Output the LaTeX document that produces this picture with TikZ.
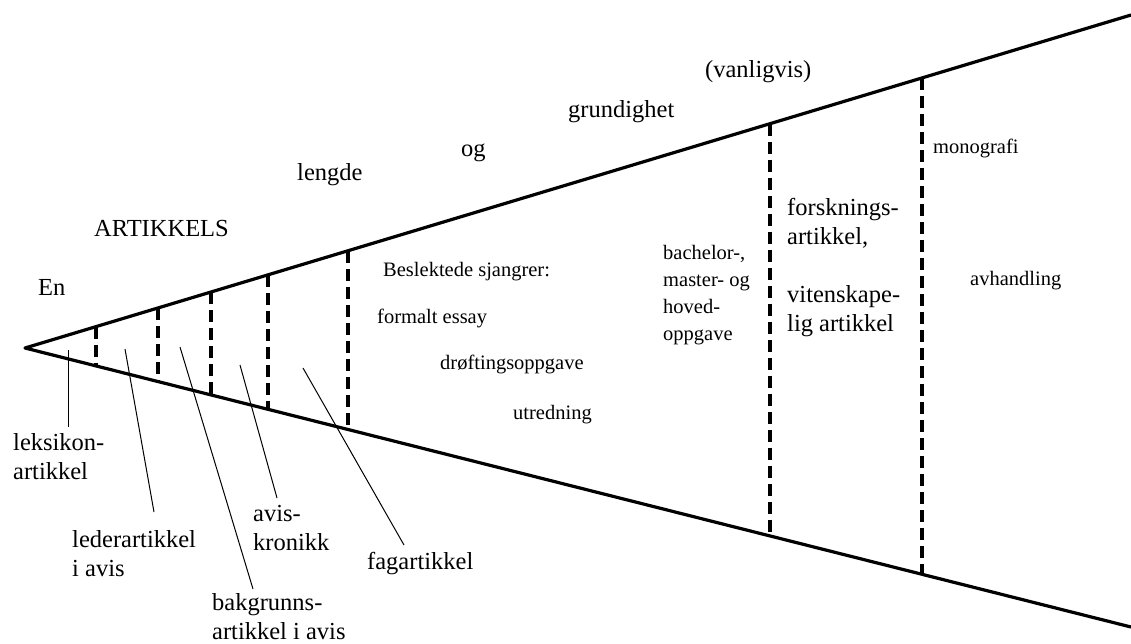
\documentclass[tikz,border=0pt]{standalone}
\usepackage{fontspec}
\setmainfont{Liberation Serif}
\usetikzlibrary{
  calc,
}
\tikzset{
  wedge/.style={line width=3.2pt, line join=round},
  divider/.style={line width=3.2pt, dash pattern=on 12pt off 6pt},
  pointer/.style={line width=1pt},
  biglabel/.style={font=\fontsize{24.5}{29}\selectfont, inner sep=0pt, align=left},
  smalllabel/.style={font=\fontsize{20.5}{27}\selectfont, inner sep=0pt, align=left},
}
\begin{document}
\begin{tikzpicture}[x=1pt, y=-1pt]
\useasboundingbox (0,0) rectangle (1131,643);
% the wedge
\coordinate (apex) at (25,348);
\coordinate (upper end) at (1131,15);
\coordinate (lower end) at (1131,627);
\draw[wedge] (upper end) -- (apex) -- (lower end);
\foreach \x in {96,158,211,268,348,770,922} {
  \pgfmathsetmacro\t{(\x-25)/1106}
  \draw[divider] ($(apex)!\t!(upper end)$) -- ($(apex)!\t!(lower end)$);
}
% heading along the top
\node[biglabel, anchor=base west] (en) at (38,295) {En};
\node[biglabel, anchor=base west] (artikkels) at (94,236) {ARTIKKELS};
\node[biglabel, anchor=base west] (lengde) at (297,180) {lengde};
\node[biglabel, anchor=base west] (og) at (461,156) {og};
\node[biglabel, anchor=base west] (grundighet) at (568,117) {grundighet};
\node[biglabel, anchor=base west] (vanligvis) at (705,77) {(vanligvis)};
% inside the wedge
\node[smalllabel, anchor=base west] (beslektede) at (383,276) {Beslektede sjangrer:};
\node[smalllabel, anchor=base west] (essay) at (377,323) {formalt essay};
\node[smalllabel, anchor=base west] (droefting) at (440,369) {drøftingsoppgave};
\node[smalllabel, anchor=base west] (utredning) at (513,419) {utredning};
\node[smalllabel, anchor=north west] (oppgave) at (663,245) {bachelor-,\\master- og\\hoved-\\oppgave};
\node[biglabel, anchor=north west] (forskning) at (787,198) {forsknings-\\artikkel,\\[29pt]vitenskape-\\lig artikkel};
\node[smalllabel, anchor=base west] (monografi) at (933,153) {monografi};
\node[smalllabel, anchor=base west] (avhandling) at (970,285) {avhandling};
% labels below
\node[biglabel, anchor=north west] (leksikon) at (13,433) {leksikon-\\artikkel};
\node[biglabel, anchor=north west] (leder) at (72,530) {lederartikkel\\i avis};
\node[biglabel, anchor=north west] (bakgrunn) at (212,593) {bakgrunns-\\artikkel i avis};
\node[biglabel, anchor=north west] (kronikk) at (253,505) {avis-\\kronikk};
\node[biglabel, anchor=base west] (fag) at (367,569) {fagartikkel};
\coordinate (leksikon top) at (68,350);
\coordinate (leksikon foot) at (68,427);
\coordinate (leder top) at (125,349);
\coordinate (leder foot) at (154,512);
\coordinate (bakgrunn top) at (180,347);
\coordinate (bakgrunn foot) at (253,589);
\coordinate (kronikk top) at (240,365);
\coordinate (kronikk foot) at (277,498);
\coordinate (fag top) at (303,368);
\coordinate (fag foot) at (404,545);
\foreach \n in {leksikon,leder,bakgrunn,kronikk,fag}
  \draw[pointer] (\n\space top) -- (\n\space foot);
\end{tikzpicture}
\end{document}
